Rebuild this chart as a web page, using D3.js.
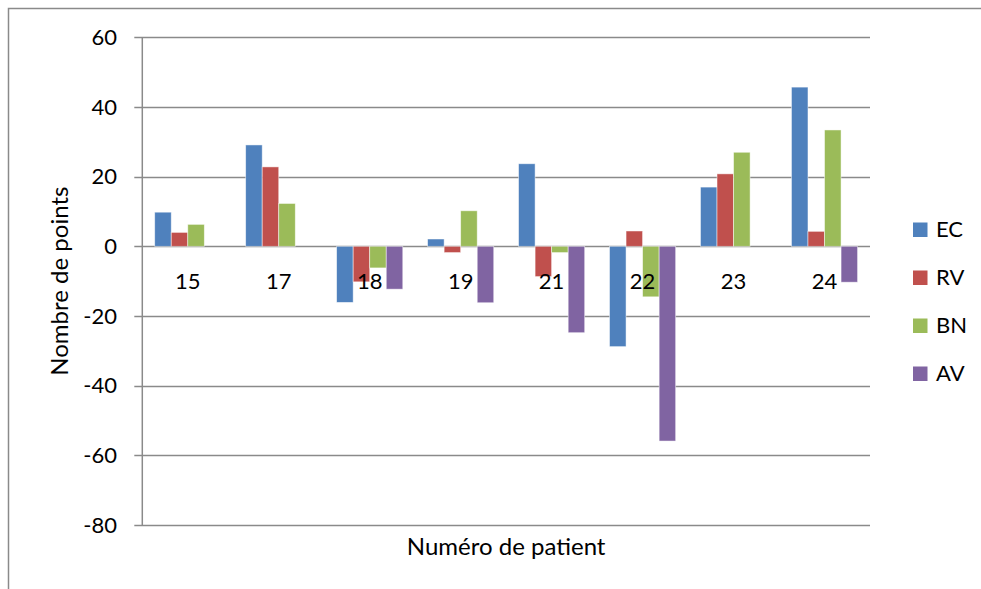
<!DOCTYPE html>
<html>
<head>
<meta charset="utf-8">
<script src="https://cdn.jsdelivr.net/npm/d3@7"></script>
<style>
  body { margin: 0; background: #fff; }
  text { font-family: Lato, "Open Sans", sans-serif; fill: #000; }
</style>
</head>
<body>
<svg id="chart"></svg>
<script>
// Données
const patients = ['15', '17', '18', '19', '21', '22', '23', '24'];
const seriesNames = ['EC', 'RV', 'BN', 'AV'];
const valuesEC = [9.8, 29.1, -16.1, 2.1, 23.7, -28.8, 17.0, 45.7];
const valuesRV = [4.0, 22.8, -10.2, -1.8, -8.7, 4.4, 20.8, 4.3];
const valuesBN = [6.3, 12.3, -6.2, 10.2, -1.8, -14.5, 27.0, 33.4];
const valuesAV = [0, 0, -12.3, -16.2, -24.8, -55.9, 0, -10.3];
const yTicks = [60, 40, 20, 0, -20, -40, -60, -80];
const colors = ['#4F81BD', '#C0504D', '#9BBB59', '#8064A2'];

const allValues = [valuesEC, valuesRV, valuesBN, valuesAV];

const width = 981;
const height = 589;
const plot = { left: 142.3, right: 870, top: 37.3, bottom: 525 };

const svg = d3.select('#chart')
    .attr('width', width)
    .attr('height', height);

// cadre extérieur (haut et gauche)
svg.append('path')
    .attr('d', `M8.5,589 V8.5 H981`)
    .attr('fill', 'none')
    .attr('stroke', '#8a8a8a')
    .attr('stroke-width', 1.5);

const y = d3.scaleLinear()
    .domain([-80, 60])
    .range([plot.bottom, plot.top]);

const x = d3.scaleBand()
    .domain(patients)
    .range([plot.left, plot.right])
    .padding(0);

// largeur de barre: écart de 150 %
const barW = x.bandwidth() / 5.5;
const xs = d3.scaleBand()
    .domain(seriesNames)
    .range([barW * 0.75, x.bandwidth() - barW * 0.75])
    .padding(0);

// quadrillage
svg.append('g')
    .selectAll('line')
    .data(yTicks)
    .enter()
    .append('line')
    .attr('x1', plot.left - 8)
    .attr('x2', plot.right)
    .attr('y1', d => Math.round(y(d)) + 0.5)
    .attr('y2', d => Math.round(y(d)) + 0.5)
    .attr('stroke', '#8a8a8a')
    .attr('stroke-width', 1.5);

// axe vertical
svg.append('line')
    .attr('x1', plot.left).attr('x2', plot.left)
    .attr('y1', y(60)).attr('y2', y(-80))
    .attr('stroke', '#8a8a8a')
    .attr('stroke-width', 1.5);

// étiquettes de l'axe Y
svg.append('g')
    .selectAll('text')
    .data(yTicks)
    .enter()
    .append('text')
    .attr('x', 117)
    .attr('y', d => y(d))
    .attr('dy', '0.35em')
    .attr('text-anchor', 'end')
    .style('font-size', '22px')
    .text(d => d);

// barres
const groups = svg.append('g')
    .selectAll('g')
    .data(seriesNames)
    .enter()
    .append('g')
    .attr('fill', (d, i) => colors[i]);

groups.selectAll('rect')
    .data((s, i) => allValues[i].map((v, j) => ({ s: s, p: patients[j], v: v })))
    .enter()
    .filter(d => d.v !== 0)
    .append('rect')
    .attr('x', d => x(d.p) + xs(d.s))
    .attr('width', xs.bandwidth())
    .attr('y', d => y(Math.max(0, d.v)))
    .attr('height', d => Math.abs(y(d.v) - y(0)))
    .attr('stroke', '#ffffff')
    .attr('stroke-opacity', 0.6)
    .attr('stroke-width', 0.8);

// étiquettes des catégories près de la ligne zéro
svg.append('g')
    .selectAll('text')
    .data(patients)
    .enter()
    .append('text')
    .attr('x', d => x(d) + x.bandwidth() / 2)
    .attr('y', y(0) + 43)
    .attr('text-anchor', 'middle')
    .style('font-size', '22px')
    .text(d => d);

// titres des axes
svg.append('text')
    .attr('x', (plot.left + plot.right) / 2)
    .attr('y', 555)
    .attr('text-anchor', 'middle')
    .style('font-size', '24px')
    .text('Numéro de patient');

svg.append('text')
    .attr('transform', `translate(68,${(plot.top + plot.bottom) / 2}) rotate(-90)`)
    .attr('text-anchor', 'middle')
    .style('font-size', '24px')
    .text('Nombre de points');

// légende
const legend = svg.append('g')
    .selectAll('g')
    .data(seriesNames)
    .enter()
    .append('g')
    .attr('transform', (d, i) => `translate(913,${229.5 + i * 48})`);

legend.append('rect')
    .attr('x', 0)
    .attr('y', -7)
    .attr('width', 14.5)
    .attr('height', 14.5)
    .attr('fill', (d, i) => colors[i]);

legend.append('text')
    .attr('x', 23)
    .attr('y', 0)
    .attr('dy', '0.36em')
    .style('font-size', '22px')
    .text(d => d);
</script>
</body>
</html>
